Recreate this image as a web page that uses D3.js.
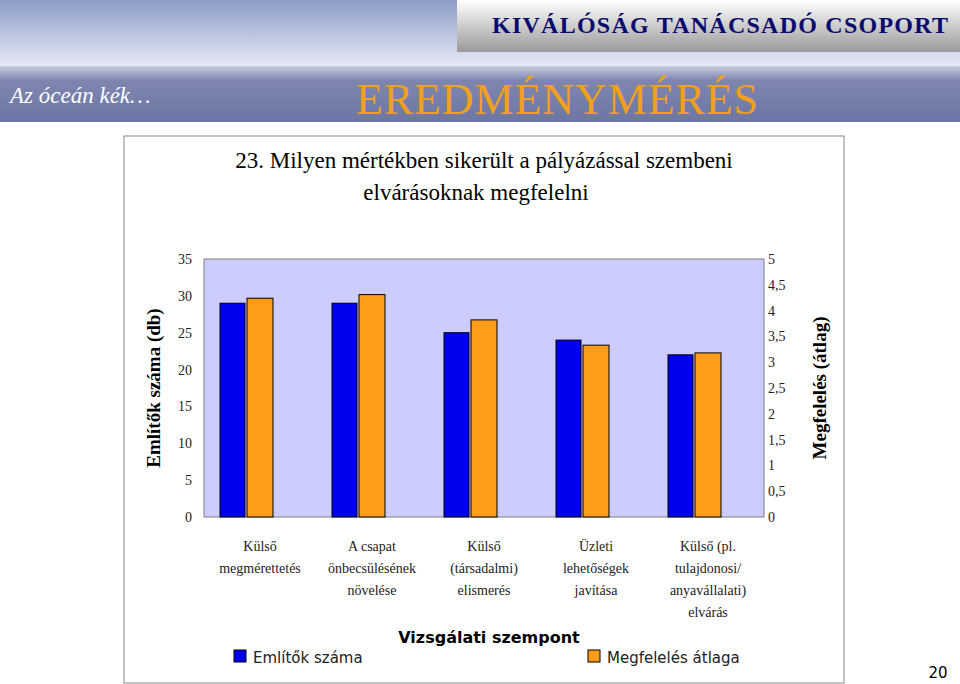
<!DOCTYPE html>
<html><head><meta charset="utf-8">
<script src="https://cdn.jsdelivr.net/npm/d3@7"></script>
<style>body{margin:0;background:#fff}svg{display:block}</style>
</head><body>
<svg id="mainsvg" width="960" height="684"></svg>
<script>
const svg = d3.select('#mainsvg');

// data
const categories = [
  ['Külső', 'megmérettetés'],
  ['A csapat', 'önbecsülésének', 'növelése'],
  ['Külső', '(társadalmi)', 'elismerés'],
  ['Üzleti', 'lehetőségek', 'javítása'],
  ['Külső (pl.', 'tulajdonosi/', 'anyavállalati)', 'elvárás']
];
const countValues = [29, 29, 25, 24, 22];
const meanValues = [4.24, 4.31, 3.82, 3.33, 3.18];
const leftTicks = [0, 5, 10, 15, 20, 25, 30, 35];
const rightTicks = [0, 0.5, 1, 1.5, 2, 2.5, 3, 3.5, 4, 4.5, 5];

const serif = '"Liberation Serif", "DejaVu Serif", serif';

// header
const defs = svg.append('defs');
const sky = defs.append('linearGradient').attr('id', 'sky').attr('x1', 0).attr('y1', 0).attr('x2', 0).attr('y2', 1);
sky.append('stop').attr('offset', 0).attr('stop-color', '#8e9cc6');
sky.append('stop').attr('offset', 0.6).attr('stop-color', '#c4cde6');
sky.append('stop').attr('offset', 1).attr('stop-color', '#e8ecf6');
const grey = defs.append('linearGradient').attr('id', 'grey').attr('x1', 0).attr('y1', 0).attr('x2', 0).attr('y2', 1);
grey.append('stop').attr('offset', 0).attr('stop-color', '#ffffff');
grey.append('stop').attr('offset', 1).attr('stop-color', '#9a9a9a');
const band = defs.append('linearGradient').attr('id', 'band').attr('x1', 0).attr('y1', 0).attr('x2', 0).attr('y2', 1);
band.append('stop').attr('offset', 0).attr('stop-color', '#c9cfe2');
band.append('stop').attr('offset', 0.25).attr('stop-color', '#7e86b0');
band.append('stop').attr('offset', 1).attr('stop-color', '#6d76a4');

svg.append('rect').attr('width', 960).attr('height', 68).attr('fill', 'url(#sky)');
svg.append('rect').attr('x', 457).attr('width', 503).attr('height', 52).attr('fill', 'url(#grey)');
svg.append('text').attr('x', 948).attr('y', 33).attr('text-anchor', 'end')
  .attr('font-family', serif).attr('font-weight', 'bold').attr('font-size', 24)
  .attr('textLength', 456).attr('fill', '#0a0a6e').text('KIVÁLÓSÁG TANÁCSADÓ CSOPORT');
svg.append('rect').attr('y', 66).attr('width', 960).attr('height', 56).attr('fill', 'url(#band)');
svg.append('text').attr('x', 10).attr('y', 103).attr('font-family', serif)
  .attr('font-style', 'italic').attr('font-size', 23).attr('fill', '#fff').text('Az óceán kék…');
svg.append('text').attr('x', 557).attr('y', 114).attr('text-anchor', 'middle').attr('font-family', serif)
  .attr('font-size', 44).attr('textLength', 402).attr('fill', '#f0a020').text('EREDMÉNYMÉRÉS');

// chart frame
svg.append('rect').attr('x', 124).attr('y', 136).attr('width', 720).attr('height', 547)
  .attr('fill', '#fff').attr('stroke', '#888').attr('stroke-width', 1);
svg.append('text').attr('x', 484).attr('y', 168).attr('text-anchor', 'middle').attr('font-family', serif)
  .attr('font-size', 23).text('23. Milyen mértékben sikerült a pályázással szembeni');
svg.append('text').attr('x', 476).attr('y', 200).attr('text-anchor', 'middle').attr('font-family', serif)
  .attr('font-size', 23).text('elvárásoknak megfelelni');

const margin = {top: 259, left: 204, right: 196, bottom: 167};
const innerWidth = 960 - margin.left - margin.right;
const innerHeight = 684 - margin.top - margin.bottom;
const g = svg.append('g').attr('transform', `translate(${margin.left}, ${margin.top})`);

const xScale = d3.scaleBand().domain(d3.range(categories.length)).range([0, innerWidth]);
const yLeft = d3.scaleLinear().domain([0, 35]).range([innerHeight, 0]);
const yRight = d3.scaleLinear().domain([0, 5]).range([innerHeight, 0]);

g.append('rect').attr('width', innerWidth).attr('height', innerHeight)
  .attr('fill', '#ccccff').attr('stroke', '#808080');

const barW = 25;
g.selectAll('.cnt').data(countValues).join('rect').attr('class', 'cnt')
  .attr('x', (d, i) => xScale(i) + 16)
  .attr('y', d => yLeft(d)).attr('width', barW).attr('height', d => innerHeight - yLeft(d))
  .attr('fill', '#0000ee').attr('stroke', '#000').attr('stroke-width', 1);
g.selectAll('.mean').data(meanValues).join('rect').attr('class', 'mean')
  .attr('x', (d, i) => xScale(i) + 43)
  .attr('y', d => yRight(d)).attr('width', barW + 1).attr('height', d => innerHeight - yRight(d))
  .attr('fill', '#ff9c1a').attr('stroke', '#000').attr('stroke-width', 1);

const fmt = d => String(d).replace('.', ',');
const axL = g.append('g').call(d3.axisLeft(yLeft).tickValues(leftTicks).tickSize(0).tickPadding(12));
const axR = g.append('g').attr('transform', `translate(${innerWidth},0)`)
  .call(d3.axisRight(yRight).tickValues(rightTicks).tickFormat(fmt).tickSize(0).tickPadding(4));
[axL, axR].forEach(a => {
  a.select('.domain').remove();
  a.selectAll('text').attr('font-family', serif).attr('font-size', 14).attr('fill', '#222');
});

categories.forEach((lines, i) => {
  const cx = xScale(i) + xScale.bandwidth() / 2;
  const t = g.append('text').attr('x', cx).attr('y', innerHeight + 34)
    .attr('text-anchor', 'middle').attr('font-family', serif).attr('font-size', 14).attr('fill', '#222');
  lines.forEach((l, j) => t.append('tspan').attr('x', cx).attr('dy', j ? 22 : 0).text(l));
});

svg.append('text').attr('transform', 'translate(160,388) rotate(-90)').attr('text-anchor', 'middle')
  .attr('font-family', serif).attr('font-weight', 'bold').attr('font-size', 19).text('Említők száma (db)');
svg.append('text').attr('transform', 'translate(826,388) rotate(-90)').attr('text-anchor', 'middle')
  .attr('font-family', serif).attr('font-weight', 'bold').attr('font-size', 19).text('Megfelelés (átlag)');
svg.append('text').attr('x', 489).attr('y', 643).attr('text-anchor', 'middle')
  .attr('font-family', '"DejaVu Sans", sans-serif').attr('font-weight', 'bold').attr('font-size', 16).text('Vizsgálati szempont');

// legend
const legend = [['Említők száma', '#0000ee', 234], ['Megfelelés átlaga', '#ff9c1a', 588]];
legend.forEach(([t, c, x]) => {
  svg.append('rect').attr('x', x).attr('y', 650).attr('width', 12).attr('height', 12).attr('fill', c).attr('stroke', '#000');
  svg.append('text').attr('x', x + 19).attr('y', 663).attr('font-family', '"DejaVu Sans", sans-serif')
    .attr('font-size', 15).attr('fill', '#222').text(t);
});
svg.append('text').attr('x', 938).attr('y', 678).attr('text-anchor', 'middle')
  .attr('font-family', '"DejaVu Sans", sans-serif').attr('font-size', 15).text('20');
</script>
</body></html>
